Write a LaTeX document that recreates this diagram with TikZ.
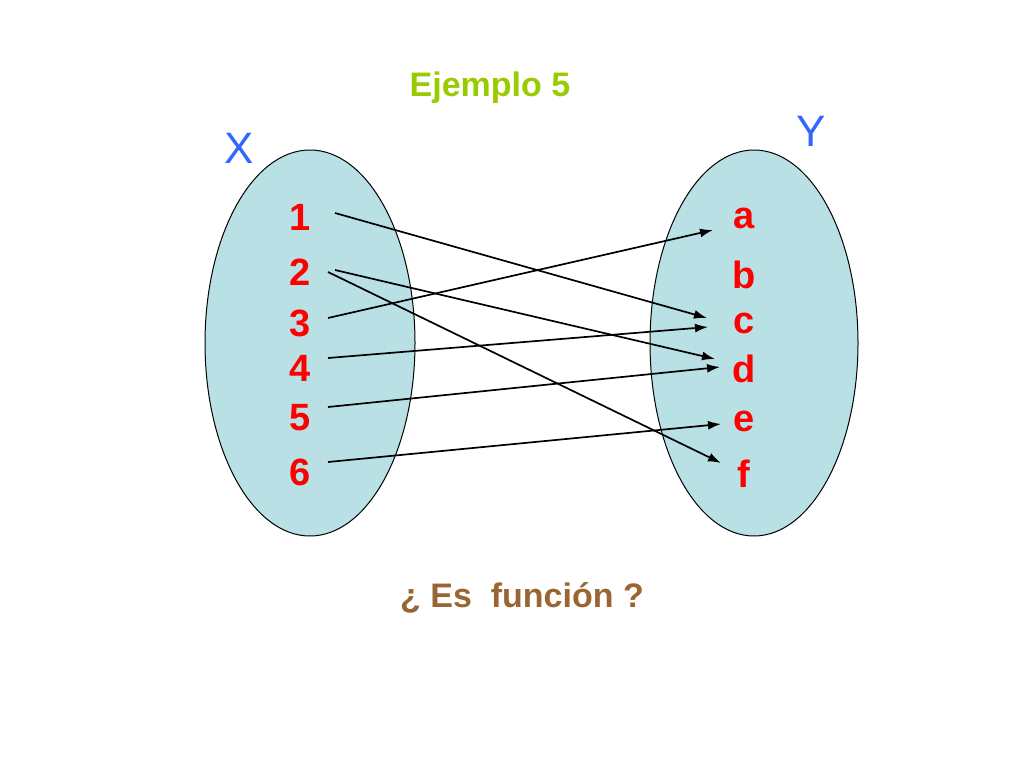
\documentclass[tikz,border=0pt]{standalone}
\usepackage{fontspec}
\setmainfont{Liberation Sans}
\usetikzlibrary{arrows.meta}
\definecolor{setfill}{RGB}{185,224,228}
\definecolor{titlegreen}{RGB}{153,204,0}
\definecolor{askbrown}{RGB}{153,102,51}
\definecolor{setblue}{RGB}{51,102,255}
\tikzset{
	elem/.style={text=red, font=\bfseries\fontsize{38}{40}\selectfont},
	setname/.style={text=setblue, font=\fontsize{44}{46}\selectfont},
	maparrow/.style={line width=1.7pt, -{Latex[length=13pt,width=9pt]}}
}

\begin{document}
\begin{tikzpicture}[x=1pt, y=-1pt]
		%%%%% START %%%%%
		\useasboundingbox (0, 0) rectangle (1024, 768);
		
		\node[text=titlegreen, font=\bfseries\fontsize{34}{36}\selectfont] (title) at (490, 88) {Ejemplo 5};
		
		\draw[fill=setfill, line width=1pt] (310, 343) ellipse [x radius=105pt, y radius=193pt];
		\draw[fill=setfill, line width=1pt] (754, 343) ellipse [x radius=104pt, y radius=193pt];
		
		\node[setname] (X) at (239, 148) {X};
		\node[setname] (Y) at (811, 131) {Y};
		
		\node[elem] (n1) at (300, 217) {1};
		\node[elem] (n2) at (300, 272) {2};
		\node[elem] (n3) at (300, 323) {3};
		\node[elem] (n4) at (300, 368) {4};
		\node[elem] (n5) at (300, 418) {5};
		\node[elem] (n6) at (300, 472) {6};
		
		\node[elem] (a) at (744, 218) {a};
		\node[elem] (b) at (744, 275) {b};
		\node[elem] (c) at (744, 323) {c};
		\node[elem] (d) at (744, 369) {d};
		\node[elem] (e) at (744, 421) {e};
		\node[elem] (f) at (744, 474) {f};
		
		\coordinate (o1) at (335, 213);
		\coordinate (o2a) at (335, 270);
		\coordinate (o2b) at (328, 272);
		\coordinate (o3) at (328, 318);
		\coordinate (o4) at (328, 358);
		\coordinate (o5) at (328, 407);
		\coordinate (o6) at (328, 462);
		
		\coordinate (ia) at (713, 230);
		\coordinate (ic1) at (707, 318);
		\coordinate (ic2) at (708, 327);
		\coordinate (id1) at (715, 359);
		\coordinate (id2) at (720, 367);
		\coordinate (ie) at (721, 424);
		\coordinate (if) at (721, 463);
		
		\draw[maparrow] (o1) -- (ic1);
		\draw[maparrow] (o2a) -- (id1);
		\draw[maparrow] (o2b) -- (if);
		\draw[maparrow] (o3) -- (ia);
		\draw[maparrow] (o4) -- (ic2);
		\draw[maparrow] (o5) -- (id2);
		\draw[maparrow] (o6) -- (ie);
		
		\node[text=askbrown, font=\bfseries\fontsize{34}{36}\selectfont] (ask) at (522, 598) {¿ Es\ \ función ?};
		
		%%%%% END %%%%%
	\end{tikzpicture}
\end{document}
